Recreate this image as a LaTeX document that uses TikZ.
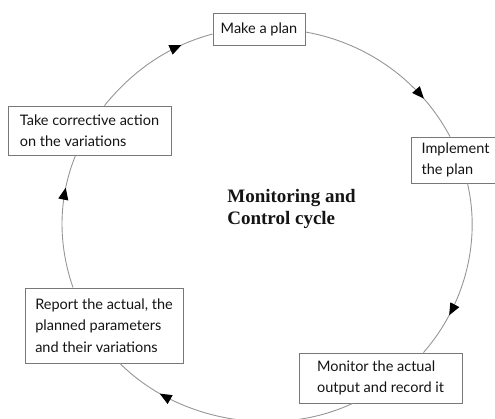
\documentclass[tikz,border=0pt]{standalone}
\usepackage{fontspec}
\setmainfont{Lato}
\newfontfamily\titlefont{Liberation Serif}
\usepackage{tikz}
\usetikzlibrary{arrows.meta, decorations.markings}
\usepackage{xcolor}

\definecolor{linegray}{RGB}{150,150,150}
\definecolor{boxgray}{RGB}{120,120,120}
\definecolor{inkgray}{RGB}{20,20,20}

\tikzset{
  box/.style={draw=boxgray, fill=white, align=left, text=inkgray,
    font=\fontsize{14.5}{21.5}\selectfont, line width=0.9pt},
  flow/.style={draw=linegray, line width=0.9pt, looseness=0.9,
    postaction={decorate, decoration={markings,
      mark=at position #1 with {\arrow{Triangle[length=12pt, width=10pt, color=black]}}}}},
  flow/.default=0.75
}

\begin{document}
\begin{tikzpicture}[x=1pt, y=1pt]
  \useasboundingbox (0,0) rectangle (495,418);
  \clip (0,0) rectangle (495,418);

  % the five steps
  \node[box, align=center, minimum width=92pt, minimum height=32pt] (plan) at (259,389) {Make a plan};
  \node[box, minimum width=89pt, minimum height=46pt] (impl) at (455.5,258) {Implement\\the plan};
  \node[box, minimum width=163pt, minimum height=50pt] (monitor) at (380.5,40) {Monitor the actual\\output and record it};
  \node[box, minimum width=158pt, minimum height=75pt] (report) at (104,92.5) {Report the actual, the\\planned parameters\\and their variations};
  \node[box, minimum width=163pt, minimum height=49pt] (take) at (89.5,287.5) {Take corrective action\\on the variations};

  % centre label
  \node[align=left, font=\titlefont\bfseries\fontsize{19}{22}\selectfont, text=inkgray] (title) at (291.5,209.5) {Monitoring and\\Control cycle};

  % the cycle
  \draw[flow] ([xshift=15pt]take.north) to[out=51, in=195] ([yshift=-5pt]plan.west);
  \draw[flow] ([yshift=-3pt]plan.east) to[out=-10, in=118] ([xshift=-5.5pt]impl.north);
  \draw[flow] ([xshift=12pt]impl.south) to[out=-77, in=49] ([xshift=43pt]monitor.north);
  \draw[flow=0.8] ([xshift=-28pt]monitor.south) to[out=205, in=315] ([xshift=16pt]report.south);
  \draw[flow] ([xshift=-31pt]report.north) to[out=109, in=248] ([xshift=-14pt]take.south);
\end{tikzpicture}
\end{document}
